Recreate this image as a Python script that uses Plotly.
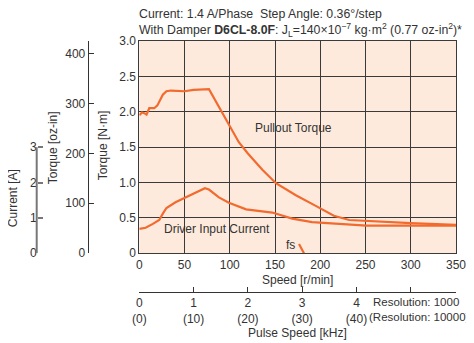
import plotly.graph_objects as go

# ---------------- data ----------------
speed_torque = [0, 3, 5.5, 8, 11, 16.5, 20, 26, 30, 35, 50, 60, 77, 80, 90, 100, 110, 120,
                136, 151, 173, 195, 215, 232, 251, 300, 350]
pullout_torque = [1.95, 1.99, 1.98, 1.96, 2.05, 2.05, 2.09, 2.24, 2.29, 2.30, 2.29, 2.31, 2.32,
                  2.25, 2.03, 1.79, 1.57, 1.41, 1.18, 0.99, 0.82, 0.67, 0.53, 0.47, 0.455,
                  0.425, 0.40]

speed_current = [0, 7, 15, 22, 26, 30, 40, 52, 63, 72.5, 77, 88, 99, 118, 147, 169, 191, 217,
                 251, 300, 350]
input_current = [0.69, 0.72, 0.83, 0.94, 1.12, 1.28, 1.44, 1.58, 1.73, 1.84, 1.80, 1.58, 1.43,
                 1.24, 1.15, 0.98, 0.88, 0.83, 0.78, 0.78, 0.78]

fs_speed = [176.5, 182]
fs_torque = [0.13, 0.0]

speed_ticks = [0, 50, 100, 150, 200, 250, 300, 350]
torque_ticks = [0, 0.5, 1.0, 1.5, 2.0, 2.5, 3.0]
torque_labels = ["0", "0.5", "1.0", "1.5", "2.0", "2.5", "3.0"]
ozin_ticks = [0, 100, 200, 300, 400]
current_ticks = [0, 1, 2, 3]
pulse_ticks = [0, 1, 2, 3, 4, 5]
pulse_labels = ["0<br>(0)", "1<br>(10)", "2<br>(20)", "3<br>(30)", "4<br>(40)", ""]

NM_TO_OZIN = 141.612
A_PER_NM = 2.0          # current scale: 3 A spans the lower half of the torque scale
SPEED_PER_KHZ = 60.0

# ---------------- layout geometry ----------------
# the page body has an 8px margin, so the figure is drawn 8px right/down
W, H = 474, 343
OFF = 8
L = 36 - OFF
T = 41 - OFF
R = W - (456 - OFF)
B = H - (291.7 - OFF)
PW, PH = W - L - R, H - T - B
def px(x): return (x - OFF - L) / PW
def py(y): return (H - B - (y - OFF)) / PH

x_dom = [px(139.3), 1.0]
y_dom = [py(253), 1.0]
cur_pos = max(0.0, px(36.7))

FONT = "Liberation Sans, Arial, sans-serif"
FS = 12
ORANGE = "#f26a2e"
GRID = "#3a3a3a"
TXT = "#333333"

fig = go.Figure()
fig.add_trace(go.Scatter(x=speed_torque, y=pullout_torque, mode="lines",
                         line=dict(color=ORANGE, width=2.2), xaxis="x", yaxis="y",
                         showlegend=False, hoverinfo="skip"))
fig.add_trace(go.Scatter(x=speed_current, y=input_current, mode="lines",
                         line=dict(color=ORANGE, width=2.2), xaxis="x", yaxis="y3",
                         showlegend=False, hoverinfo="skip"))
fig.add_trace(go.Scatter(x=fs_speed, y=fs_torque, mode="lines",
                         line=dict(color=ORANGE, width=2.2), xaxis="x", yaxis="y",
                         showlegend=False, hoverinfo="skip"))
# invisible traces so the secondary axes are drawn
fig.add_trace(go.Scatter(x=[0], y=[0], xaxis="x2", yaxis="y", mode="markers",
                         marker=dict(opacity=0), showlegend=False, hoverinfo="skip"))
fig.add_trace(go.Scatter(x=[0], y=[0], xaxis="x", yaxis="y2", mode="markers",
                         marker=dict(opacity=0), showlegend=False, hoverinfo="skip"))

tick_font = dict(family=FONT, size=FS, color=TXT)

fig.update_layout(
    template="none",
    width=W, height=H,
    margin=dict(l=L, r=R, t=T, b=B),
    paper_bgcolor="white",
    plot_bgcolor="#fdeadd",
    font=dict(family=FONT, size=FS, color=TXT),
    showlegend=False,
    xaxis=dict(domain=x_dom, range=[0, 350], tickvals=speed_ticks, showgrid=True,
               gridcolor=GRID, gridwidth=1, zeroline=False, showline=True, linecolor=GRID,
               linewidth=1, mirror=True, ticks="", anchor="y", tickfont=tick_font,
               automargin=False),
    yaxis=dict(domain=y_dom, range=[0, 3.0], tickvals=torque_ticks, ticktext=torque_labels,
               showgrid=True, gridcolor=GRID, gridwidth=1, zeroline=False, showline=True,
               linecolor=GRID, linewidth=1, mirror=True, ticks="", anchor="x",
               tickfont=tick_font, automargin=False),
    yaxis2=dict(overlaying="y", range=[0, 3.0 * NM_TO_OZIN], tickvals=ozin_ticks,
                anchor="free", position=px(87.7), side="left", showgrid=False,
                zeroline=False, showline=True, linecolor=TXT, linewidth=1,
                ticks="inside", ticklen=5, tickcolor=TXT, tickfont=tick_font,
                automargin=False),
    yaxis3=dict(overlaying="y", range=[0, 3.0 * A_PER_NM], tickvals=current_ticks,
                anchor="free", position=cur_pos, side="left", showgrid=False,
                zeroline=False, showline=False,
                ticks="inside", ticklen=5, tickcolor="#777", tickwidth=1.5,
                tickfont=tick_font, automargin=False),
    xaxis2=dict(overlaying="x", range=[0, 350 / SPEED_PER_KHZ], tickvals=pulse_ticks,
                ticktext=pulse_labels, anchor="free", position=0, side="bottom",
                showgrid=False, zeroline=False, showline=True, linecolor=TXT,
                linewidth=1, ticks="inside", ticklen=5, tickcolor=TXT,
                tickfont=tick_font, automargin=False),
)

# current axis line, drawn only over its labelled span
fig.add_shape(type="line", xref="paper", yref="y3", x0=cur_pos, x1=cur_pos,
              y0=current_ticks[0], y1=current_ticks[-1],
              line=dict(color="#777", width=2))

ann = []
def note(text, x, y, xanchor="left", yanchor="middle", angle=0, xref="paper", yref="paper",
         size=FS, align="center"):
    ann.append(dict(text=text, x=x, y=y, xref=xref, yref=yref, xanchor=xanchor,
                    yanchor=yanchor, textangle=angle, showarrow=False, align=align,
                    font=dict(family=FONT, size=size, color=TXT)))

note("Current: 1.4 A/Phase\u00a0 Step Angle: 0.36°/step<br>"
     "With Damper <b>D6CL-8.0F</b>: J<sub>L</sub>=140×10<sup>−7</sup> kg·m<sup>2</sup> "
     "(0.77 oz-in<sup>2</sup>)*", px(137), py(23.5), size=12.3, align="left")
note("Torque [N·m]", px(103), py(146), xanchor="center", angle=-90)
note("Torque [oz-in]", px(53), py(148), xanchor="center", angle=-90)
note("Current [A]", px(13), py(198), xanchor="center", angle=-90)
note("Speed [r/min]", px(297), py(280), xanchor="center")
note("Pulse Speed [kHz]", px(297), py(333), xanchor="center")
note("Resolution: 1000", px(371), py(302), size=11.5)
note("(Resolution: 10000)", px(367), py(317), size=11.5)
note("Pullout Torque", 170, 1.77, xanchor="center", xref="x", yref="y")
note("Driver Input Current", 85.8, 0.34, xanchor="center", xref="x", yref="y")
note("fs", 167.5, 0.11, xanchor="center", xref="x", yref="y")
fig.update_layout(annotations=ann)

fig.write_html("out.html")
